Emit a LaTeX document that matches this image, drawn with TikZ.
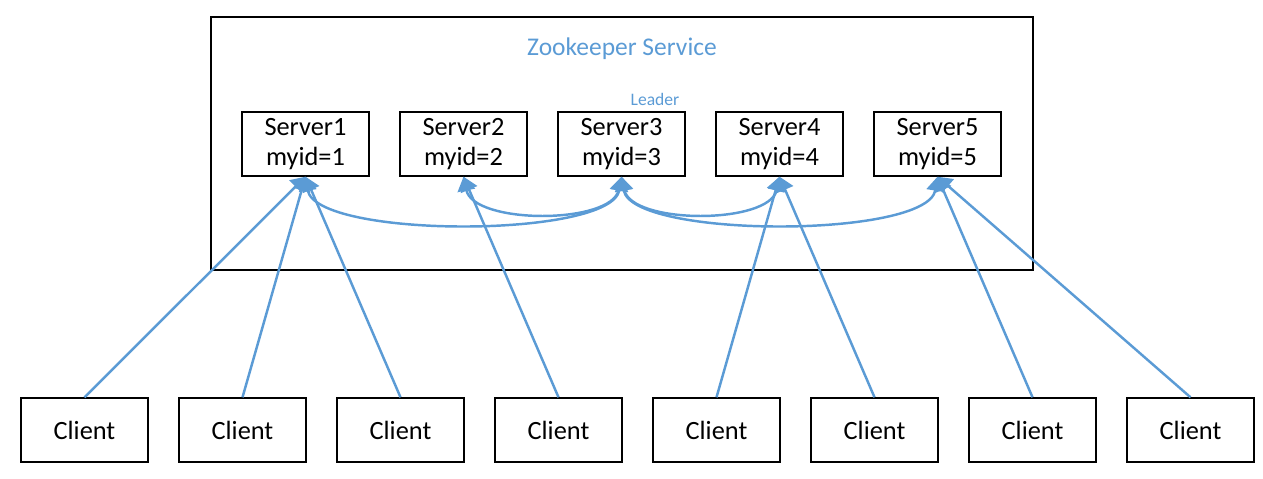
\documentclass[tikz,border=0pt]{standalone}
\usepackage{fontspec}
\setmainfont{Carlito}
\usetikzlibrary{arrows.meta}

\definecolor{zkblue}{HTML}{5B9BD5}

\tikzset{
    box/.style={draw=black, line width=0.8pt, minimum width=2.54cm, minimum height=1.28cm,
        inner sep=0pt, align=center, font=\fontsize{15}{17}\selectfont},
    link/.style={zkblue, line width=1.4pt},
    tip/.style={-{Triangle[width=10pt,length=8pt]}},
    twotips/.style={{Triangle[width=10pt,length=8pt]}-{Triangle[width=10pt,length=8pt]}}
}

\begin{document}
\begin{tikzpicture}[x=0.02cm, y=-0.02cm]
    % Page size of the reference (pixels)
    \useasboundingbox (0,0) rectangle (1263,479);

    % Service frame and title
    \draw[line width=0.8pt] (211,17) rectangle (1033,270);
    \node[zkblue, font=\fontsize{14.5}{17}\selectfont] (title) at (622,49) {Zookeeper Service};
    \node[zkblue, font=\fontsize{10}{12}\selectfont] (leader) at (655,99) {Leader};

    % Servers
    \node[box] (s1) at (305.5,144) {Server1\\myid=1};
    \node[box] (s2) at (463.5,144) {Server2\\myid=2};
    \node[box] (s3) at (621.5,144) {Server3\\myid=3};
    \node[box] (s4) at (779.5,144) {Server4\\myid=4};
    \node[box] (s5) at (937.5,144) {Server5\\myid=5};

    % Clients
    \node[box] (c1) at (84.5,430) {Client};
    \node[box] (c2) at (242.5,430) {Client};
    \node[box] (c3) at (400.5,430) {Client};
    \node[box] (c4) at (558.5,430) {Client};
    \node[box] (c5) at (716.5,430) {Client};
    \node[box] (c6) at (874.5,430) {Client};
    \node[box] (c7) at (1032.5,430) {Client};
    \node[box] (c8) at (1190.5,430) {Client};

    % Clients to servers
    \draw[link, tip] (c1.north) -- (s1.south);
    \draw[link, tip] (c2.north) -- (s1.south);
    \draw[link, tip] (c3.north) -- (s1.south);
    \draw[link, tip] (c4.north) -- (s2.south);
    \draw[link, tip] (c5.north) -- (s4.south);
    \draw[link, tip] (c6.north) -- (s4.south);
    \draw[link, tip] (c7.north) -- (s5.south);
    \draw[link, tip] (c8.north) -- (s5.south);

    % Followers and leader
    \draw[link, twotips] (s1.south) .. controls +(10,62) and +(-10,62) .. (s3.south);
    \draw[link, twotips] (s2.south) .. controls +(10,48) and +(-10,48) .. (s3.south);
    \draw[link, twotips] (s3.south) .. controls +(10,48) and +(-10,48) .. (s4.south);
    \draw[link, twotips] (s3.south) .. controls +(10,62) and +(-10,62) .. (s5.south);
\end{tikzpicture}
\end{document}
